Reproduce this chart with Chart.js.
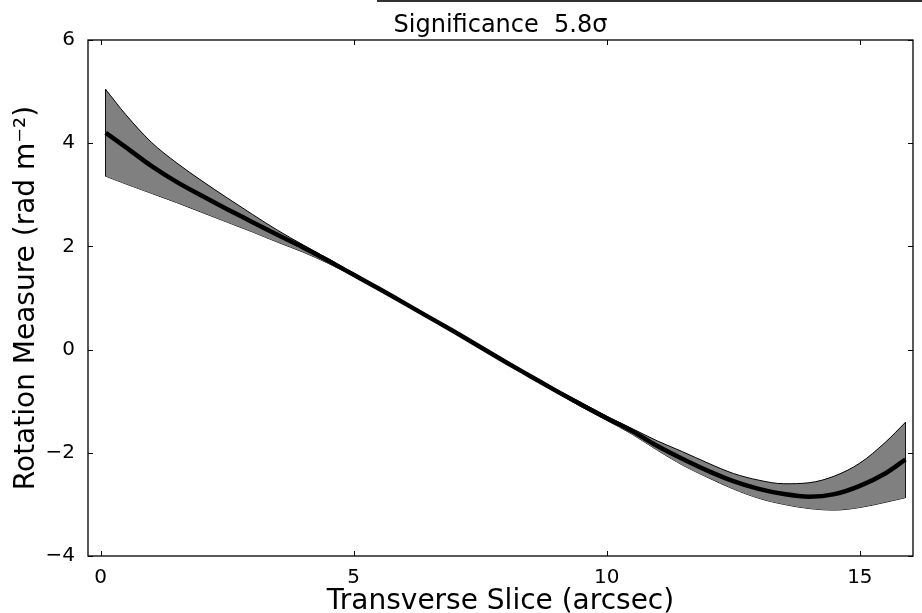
<!DOCTYPE html>
<html>
<head>
<meta charset="utf-8">
<script src="https://cdn.jsdelivr.net/npm/chart.js@4"></script>
<style>
  html, body { margin: 0; padding: 0; background: #fff; }
  #rmChart { display: block; }
</style>
</head>
<body>
<canvas id="rmChart" width="922" height="613"></canvas>
<script>
const slice = [0.1, 0.5, 1, 1.5, 2, 2.5, 3, 3.5, 4, 4.5, 5, 5.5, 6, 6.5, 7, 7.5, 8,
  8.5, 9, 9.5, 10, 10.5, 11, 11.5, 12, 12.5, 13, 13.5, 14, 14.5, 15, 15.5, 15.9];

const rm = [4.2, 3.92, 3.56, 3.25, 2.98, 2.72, 2.47, 2.22, 1.98, 1.72, 1.45, 1.18,
  0.9, 0.62, 0.34, 0.05, -0.24, -0.52, -0.8, -1.07, -1.33, -1.58, -1.87, -2.12,
  -2.35, -2.55, -2.7, -2.8, -2.85, -2.8, -2.64, -2.4, -2.13];

const rmUpper = [5.04, 4.55, 4.02, 3.62, 3.27, 2.94, 2.62, 2.31, 2.03, 1.76, 1.48,
  1.2, 0.92, 0.64, 0.36, 0.07, -0.22, -0.5, -0.77, -1.03, -1.29, -1.53, -1.77,
  -1.98, -2.2, -2.4, -2.53, -2.6, -2.58, -2.45, -2.2, -1.8, -1.41];

const rmLower = [3.36, 3.21, 3.03, 2.85, 2.66, 2.47, 2.28, 2.08, 1.89, 1.67, 1.42,
  1.16, 0.88, 0.6, 0.32, 0.03, -0.26, -0.54, -0.83, -1.11, -1.37, -1.64, -1.95,
  -2.24, -2.48, -2.7, -2.88, -3.0, -3.08, -3.11, -3.06, -2.96, -2.87];

const xTicks = [0, 5, 10, 15];
const yTicks = [-4, -2, 0, 2, 4, 6];

const pts = (ys) => slice.map((x, i) => ({ x: x, y: ys[i] }));
const last = slice.length - 1;

const font = "'DejaVu Sans', sans-serif";
const minus = (v) => String(v).replace("-", "\u2212");

// matplotlib style frame with inward ticks on all four sides
const frameTicks = {
  id: "frameTicks",
  afterDatasetsDraw(chart) {
    const c = chart.ctx;
    const a = chart.chartArea;
    const sx = chart.scales.x;
    const sy = chart.scales.y;
    c.save();
    c.strokeStyle = "#000";
    c.lineWidth = 1;
    xTicks.forEach((v) => {
      const px = Math.round(sx.getPixelForValue(v)) + 0.5;
      c.beginPath();
      c.moveTo(px, a.bottom); c.lineTo(px, a.bottom - 5);
      c.moveTo(px, a.top); c.lineTo(px, a.top + 5);
      c.stroke();
    });
    yTicks.forEach((v) => {
      const py = Math.round(sy.getPixelForValue(v)) + 0.5;
      c.beginPath();
      c.moveTo(a.left, py); c.lineTo(a.left + 5, py);
      c.moveTo(a.right, py); c.lineTo(a.right - 5, py);
      c.stroke();
    });
    c.lineWidth = 1.3;
    c.strokeRect(a.left, a.top, a.right - a.left, a.bottom - a.top);
    // stray box edge along the top of the figure
    c.strokeStyle = "#333";
    c.lineWidth = 2;
    c.beginPath();
    c.moveTo(377, 1); c.lineTo(922, 1);
    c.stroke();
    c.restore();
  },
};

const band = {
  borderColor: "#000",
  borderWidth: 1,
  pointRadius: 0,
  order: 1,
};

new Chart(document.getElementById("rmChart"), {
  type: "line",
  data: {
    datasets: [
      {
        ...band,
        data: pts(rmUpper),
        backgroundColor: "#808080",
        fill: "+1",
        cubicInterpolationMode: "monotone",
      },
      {
        ...band,
        data: pts(rmLower),
        fill: false,
        cubicInterpolationMode: "monotone",
      },
      {
        ...band,
        data: [{ x: slice[0], y: rmUpper[0] }, { x: slice[0], y: rmLower[0] }],
        fill: false,
      },
      {
        ...band,
        data: [{ x: slice[last], y: rmUpper[last] }, { x: slice[last], y: rmLower[last] }],
        fill: false,
      },
      {
        data: pts(rm),
        borderColor: "#000",
        borderWidth: 4.5,
        fill: false,
        pointRadius: 0,
        order: 0,
        cubicInterpolationMode: "monotone",
      },
    ],
  },
  options: {
    responsive: false,
    animation: false,
    layout: { padding: { left: 0, right: 9, top: 0, bottom: 0 } },
    plugins: {
      legend: { display: false },
      tooltip: { enabled: false },
    },
    scales: {
      x: {
        type: "linear",
        min: -0.25,
        max: 16.05,
        afterBuildTicks: (s) => { s.ticks = xTicks.map((v) => ({ value: v })); },
        afterFit: (s) => { s.height = 57; },
        grid: { display: false },
        border: { display: false },
        ticks: { color: "#000", font: { family: font, size: 20 }, padding: 2, maxRotation: 0 },
        title: {
          display: true,
          text: "Transverse Slice (arcsec)",
          color: "#000",
          font: { family: font, size: 28, lineHeight: 1 },
          padding: { top: 0, bottom: -3 },
        },
      },
      top: {
        type: "linear",
        position: "top",
        min: -0.25,
        max: 16.05,
        afterFit: (s) => { s.height = 40; },
        grid: { display: false },
        border: { display: false },
        ticks: { display: false },
        title: {
          display: true,
          text: "Significance  5.8\u03c3",
          color: "#000",
          font: { family: font, size: 24 },
          padding: { top: 11, bottom: 0 },
        },
      },
      y: {
        min: -4,
        max: 6,
        afterBuildTicks: (s) => { s.ticks = yTicks.map((v) => ({ value: v })); },
        afterFit: (s) => { s.width = 88; },
        grid: { display: false },
        border: { display: false },
        ticks: { color: "#000", font: { family: font, size: 20 }, padding: 5, callback: (v) => minus(v) },
        title: {
          display: true,
          text: "Rotation Measure (rad m\u207b\u00b2)",
          color: "#000",
          font: { family: font, size: 28 },
          padding: { top: 10, bottom: 0 },
        },
      },
    },
  },
  plugins: [frameTicks],
});
</script>
</body>
</html>
